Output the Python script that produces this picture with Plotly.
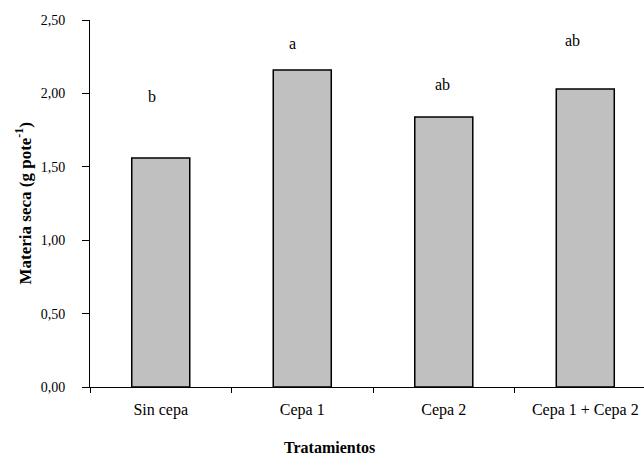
import plotly.graph_objects as go

categories = ["Sin cepa", "Cepa 1", "Cepa 2", "Cepa 1 + Cepa 2"]
materia_seca = [1.56, 2.16, 1.84, 2.03]
letters = ["b", "a", "ab", "ab"]
letter_y = [1.98, 2.34, 2.06, 2.36]
letter_xshift = [-9, -10, -1, -13]
y_ticks = [0.0, 0.5, 1.0, 1.5, 2.0, 2.5]

FONT = "Liberation Serif"

fig = go.Figure()
fig.add_trace(go.Bar(
    x=categories, y=materia_seca, width=0.41,
    marker=dict(color="#C0C0C0", line=dict(color="black", width=1.5)),
    showlegend=False, hoverinfo="skip",
))

for i, (lt, ly, xs) in enumerate(zip(letters, letter_y, letter_xshift)):
    fig.add_annotation(x=i, y=ly, xref="x", yref="y", text=lt, showarrow=False,
                       xshift=xs, font=dict(family=FONT, size=16, color="black"),
                       xanchor="center", yanchor="middle")

fig.add_annotation(x=-0.121, y=0.5, xref="paper", yref="paper",
                   text="<b>Materia seca (g pote<sup>-1</sup>)</b>", textangle=-90,
                   showarrow=False, font=dict(family=FONT, size=17, color="black"),
                   xanchor="center", yanchor="middle")
fig.add_annotation(x=0.433, y=-0.166, xref="paper", yref="paper",
                   text="<b>Tratamientos</b>", showarrow=False,
                   font=dict(family=FONT, size=16, color="black"),
                   xanchor="center", yanchor="middle")

fig.update_layout(
    width=644, height=457,
    margin=dict(l=90, r=0, t=20, b=70),
    paper_bgcolor="white", plot_bgcolor="white",
    separators=",.",
    font=dict(family=FONT, color="black"),
    xaxis=dict(
        type="category", range=[-0.5, 3.415],
        showline=True, linecolor="black", linewidth=1,
        ticks="outside", tickson="boundaries", ticklen=5, tickcolor="black",
        showgrid=False, zeroline=False,
        tickfont=dict(family=FONT, size=16, color="black"),
        ticklabelstandoff=8,
    ),
    yaxis=dict(
        range=[0, 2.5], tickvals=y_ticks, tickformat=".2f",
        showline=True, linecolor="black", linewidth=1,
        ticks="outside", ticklen=7, tickcolor="black",
        showgrid=False, zeroline=False,
        tickfont=dict(family=FONT, size=14, color="black"),
        ticklabelstandoff=14,
    ),
)

fig.write_html("out.html")
